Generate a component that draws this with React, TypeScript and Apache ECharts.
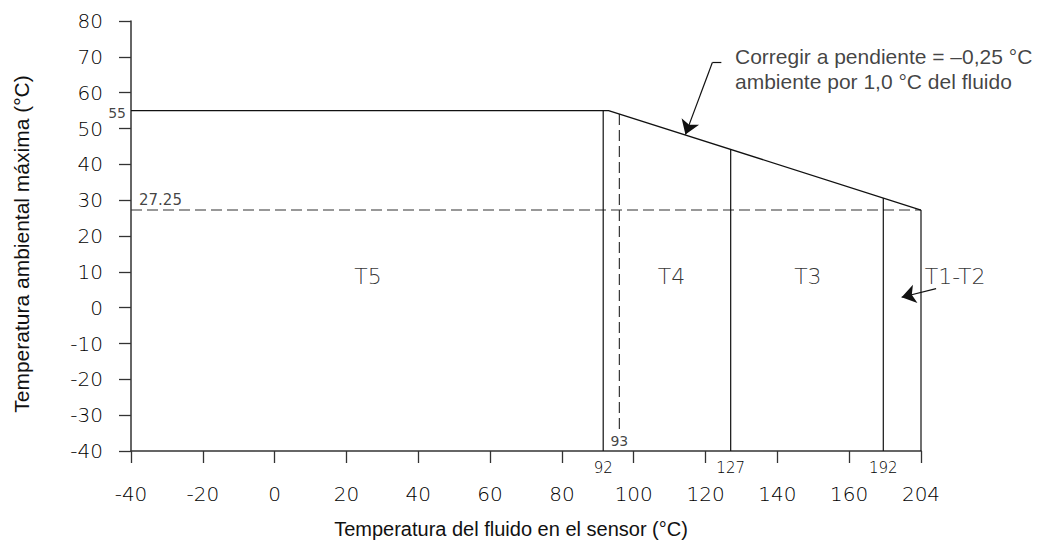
import React, { useEffect, useRef } from "react";
import * as echarts from "echarts";

// Schematic axis: -40..160 linear, the tick at 180 is labelled 204
const xMin = -40;
const xMax = 180;
const xEndLabel = "204";
const yMin = -40;
const yMax = 80;

// Upper limit line (schematic axis positions / ambient °C)
const boundaryX = [-40, 93, 180];
const boundaryY = [55, 55, 27.25];

// Class boundaries: real fluid temperature and their place on the schematic axis
const zoneValues = [92, 127, 192, 204];
const zoneAxisPos = [91.5, 127, 169.5, 180];

// Dashed guide at 93 °C
const guideValue = 93;
const guideAxisPos = 96;
const guideBottom = -34.5;

// Dashed ambient limit
const ambientLimit = 27.25;
const plateau = 55;

// Zone names and their label anchors
const zoneNames = ["T5", "T4", "T3", "T1-T2"];
const zoneLabelX = [26, 110.5, 148.5, 189.5];
const zoneLabelY = [8.6, 8.6, 8.6, 8.8];

const annotationLines = ["Corregir a pendiente = \u20130,25 °C", "ambiente por 1,0 °C del fluido"];
const annotationAnchor = [128.2, 66.6];
const annotationLeader = [[124.4, 68.4], [121.9, 68.4], [114.4, 48.3]];
const t12Arrow = [[184.2, 5.3], [174.6, 2.9]];

const yTitle = "Temperatura ambiental máxima (°C)";
const xTitle = "Temperatura del fluido en el sensor (°C)";

function boundaryAt(x: number): number {
  for (let i = 0; i < boundaryX.length - 1; i++) {
    const x0 = boundaryX[i], x1 = boundaryX[i + 1];
    if (x >= x0 && x <= x1) {
      const t = (x - x0) / (x1 - x0);
      return boundaryY[i] + t * (boundaryY[i + 1] - boundaryY[i]);
    }
  }
  return boundaryY[boundaryY.length - 1];
}

const CAD = "'DejaVu Sans', sans-serif";
const ARIAL = "'Liberation Sans', Arial, sans-serif";

export default function App() {
  const ref = useRef<HTMLDivElement>(null);
  useEffect(() => {
    if (!ref.current) return;
    const chart = echarts.init(ref.current, null, { renderer: "svg" });
    const lineColor = "#111";
    const series: any[] = [];

    series.push({
      type: "line",
      data: boundaryX.map((x, i) => [x, boundaryY[i]]),
      symbol: "none",
      lineStyle: { color: lineColor, width: 1.3 },
      clip: false,
      z: 3,
    });

    zoneAxisPos.forEach((x) => {
      series.push({
        type: "line",
        data: [[x, boundaryAt(x)], [x, yMin]],
        symbol: "none",
        lineStyle: { color: lineColor, width: 1.2 },
        z: 3,
      });
    });

    series.push({
      type: "line",
      data: [[xMin, ambientLimit], [xMax, ambientLimit]],
      symbol: "none",
      lineStyle: { color: "#333", width: 1.2, type: [11, 5] },
      z: 2,
    });
    series.push({
      type: "line",
      data: [[guideAxisPos, boundaryAt(guideAxisPos)], [guideAxisPos, guideBottom]],
      symbol: "none",
      lineStyle: { color: "#333", width: 1.2, type: [11, 5] },
      z: 2,
    });

    // leader stub (no arrow)
    series.push({
      type: "lines",
      coordinateSystem: "cartesian2d",
      clip: false,
      silent: true,
      symbol: ["none", "none"],
      lineStyle: { color: lineColor, width: 1.2, opacity: 1 },
      data: [{ coords: [annotationLeader[0], annotationLeader[1]] }],
      z: 4,
    });
    // arrows
    series.push({
      type: "lines",
      coordinateSystem: "cartesian2d",
      clip: false,
      silent: true,
      symbol: ["none", "arrow"],
      symbolSize: [6, 14],
      lineStyle: { color: lineColor, width: 1.2, opacity: 1 },
      itemStyle: { color: lineColor },
      data: [
        { coords: [annotationLeader[1], annotationLeader[2]] },
        { coords: [t12Arrow[0], t12Arrow[1]] },
      ],
      z: 4,
    });

    const plainText = { textBorderWidth: 0, textBorderColor: "transparent", textShadowBlur: 0 };

    // zone labels
    series.push({
      type: "scatter",
      symbolSize: 0,
      clip: false,
      itemStyle: { color: "#000" },
      data: zoneNames.map((n, i) => ({ name: n, value: [zoneLabelX[i], zoneLabelY[i]] })),
      label: {
        show: true,
        position: "inside",
        formatter: (p: any) => p.name,
        fontFamily: CAD,
        fontSize: 22,
        fontWeight: 200,
        color: "#000",
        ...plainText,
      },
    });

    // small value labels
    series.push({
      type: "scatter",
      symbolSize: 0,
      clip: false,
      itemStyle: { color: "#000" },
      data: [
        {
          name: String(guideValue),
          value: [guideAxisPos, -37.3],
          label: { position: "inside" },
        },
        {
          name: String(plateau),
          value: [xMin, plateau],
          label: { position: "left", distance: 5, offset: [0, 2] },
        },
        {
          name: ambientLimit.toFixed(2),
          value: [xMin, ambientLimit],
          label: { position: "right", distance: 8, offset: [0, -10], fontSize: 15 },
        },
      ],
      label: {
        show: true,
        formatter: (p: any) => p.name,
        fontFamily: CAD,
        fontSize: 14,
        color: "#111",
        ...plainText,
      },
    });

    // annotation text
    series.push({
      type: "scatter",
      symbolSize: 0,
      clip: false,
      itemStyle: { color: "#000" },
      data: [{ name: annotationLines.join("\n"), value: annotationAnchor }],
      label: {
        show: true,
        position: "right",
        distance: 0,
        align: "left",
        verticalAlign: "middle",
        formatter: (p: any) => p.name,
        fontFamily: ARIAL,
        fontSize: 21,
        lineHeight: 25,
        color: "#111",
        ...plainText,
      },
    });

    chart.setOption({
      animation: false,
      grid: { left: 131, right: 118, top: 21, bottom: 93 },
      xAxis: [
        {
          type: "value",
          min: xMin,
          max: xMax,
          interval: 20,
          splitLine: { show: false },
          axisLine: { show: true, onZero: false, lineStyle: { color: "#333", width: 1.5 } },
          axisTick: { show: true, length: 12, lineStyle: { color: "#333", width: 1.3 } },
          axisLabel: {
            margin: 33,
            fontFamily: CAD,
            fontWeight: 200,
            fontSize: 20,
            color: "#000",
            formatter: (v: number) => (v === xMax ? xEndLabel : String(v)),
          },
          name: xTitle,
          nameLocation: "middle",
          nameGap: 68,
          nameTextStyle: {
            fontFamily: ARIAL,
            fontSize: 20,
            color: "#111",
            padding: [0, 30, 0, 0],
          },
        },
        {
          type: "value",
          min: xMin,
          max: xMax,
          position: "bottom",
          splitLine: { show: false },
          axisLine: { show: false, onZero: false },
          axisTick: { show: false },
          axisLabel: {
            customValues: zoneAxisPos.slice(0, 3),
            margin: 9,
            fontFamily: CAD,
            fontWeight: 200,
            fontSize: 15,
            color: "#000",
            formatter: (v: number) => {
              const i = zoneAxisPos.indexOf(v);
              return i >= 0 ? String(zoneValues[i]) : "";
            },
          },
        },
      ],
      yAxis: {
        type: "value",
        min: yMin,
        max: yMax,
        interval: 10,
        splitLine: { show: false },
        axisLine: { show: true, onZero: false, lineStyle: { color: "#333", width: 1.5 } },
        axisTick: { show: true, length: 12, lineStyle: { color: "#333", width: 1.3 } },
        axisLabel: {
          margin: 28,
          fontFamily: CAD,
          fontWeight: 200,
          fontSize: 20,
          color: "#000",
        },
        name: yTitle,
        nameLocation: "middle",
        nameGap: 99,
        nameTextStyle: {
          fontFamily: ARIAL,
          fontSize: 21,
          color: "#111",
          padding: [0, 16, 0, 0],
        },
      },
      series,
    });
    return () => chart.dispose();
  }, []);
  return (
    <div
      ref={ref}
      style={{ position: "absolute", left: 0, top: 0, width: 1039, height: 544, background: "#fff" }}
    />
  );
}
